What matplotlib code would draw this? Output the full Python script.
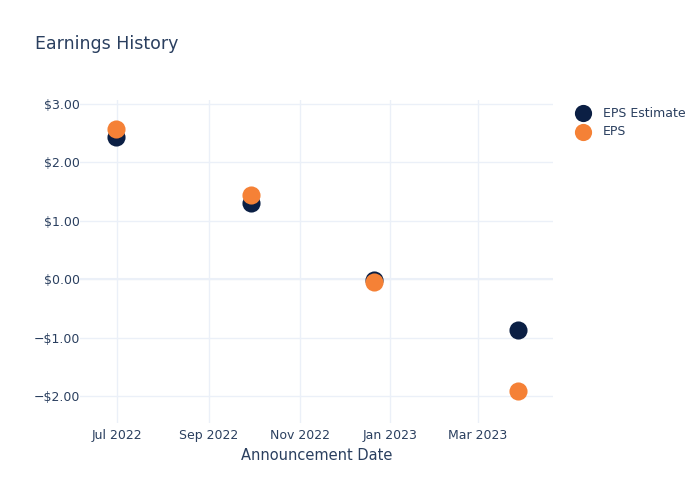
import numpy as np
import pandas as pd
import matplotlib
matplotlib.use("Agg")
import matplotlib.pyplot as plt
import matplotlib.dates as mdates
from matplotlib.ticker import FuncFormatter

# earnings data
dates = pd.to_datetime(["2022-06-30", "2022-09-29", "2022-12-21", "2023-03-28"])
eps_estimate = [2.43, 1.30, -0.02, -0.87]
eps_actual = [2.58, 1.44, -0.05, -1.91]

navy = "#0b1f44"
orange = "#f58136"
text_col = "#2a3f5f"
grid_col = "#ebf0f8"

fig = plt.figure(figsize=(7, 5), dpi=100)
ax = fig.add_axes([0.1143, 0.154, 0.676, 0.646])

ax.scatter(dates, eps_estimate, s=170, color=navy, zorder=3, label="EPS Estimate", linewidths=0)
ax.scatter(dates, eps_actual, s=170, color=orange, zorder=4, label="EPS", linewidths=0)

ax.set_xlim(pd.Timestamp("2022-06-06"), pd.Timestamp("2023-04-21"))
ax.set_ylim(-2.46, 3.07)

ax.xaxis.set_major_locator(mdates.MonthLocator(bymonth=[1, 3, 5, 7, 9, 11]))
ax.xaxis.set_major_formatter(mdates.DateFormatter("%b %Y"))
ax.set_yticks([-2, -1, 0, 1, 2, 3])

def money(v, pos):
    if v < 0:
        return "\u2212$%.2f" % abs(v)
    return "$%.2f" % v
ax.yaxis.set_major_formatter(FuncFormatter(money))

for s in ax.spines.values():
    s.set_visible(False)
ax.grid(True, color=grid_col, linewidth=1, zorder=0)
ax.axhline(0, color=grid_col, linewidth=1.5, zorder=1)
ax.set_axisbelow(True)
ax.tick_params(axis="both", length=0, labelsize=9, colors=text_col)
ax.tick_params(axis="x", pad=4)
ax.tick_params(axis="y", pad=0)

ax.set_xlabel("Announcement Date", fontsize=10.5, color=text_col, labelpad=5)
fig.text(0.05, 0.912, "Earnings History", fontsize=12.5, color=text_col, ha="left", va="center")

leg = ax.legend(loc="upper left", bbox_to_anchor=(1.025, 0.995), frameon=False,
                fontsize=9, labelcolor=text_col, handletextpad=0.6, borderaxespad=0,
                labelspacing=0.45, markerscale=0.95)

fig.savefig("out.png", dpi=100)
